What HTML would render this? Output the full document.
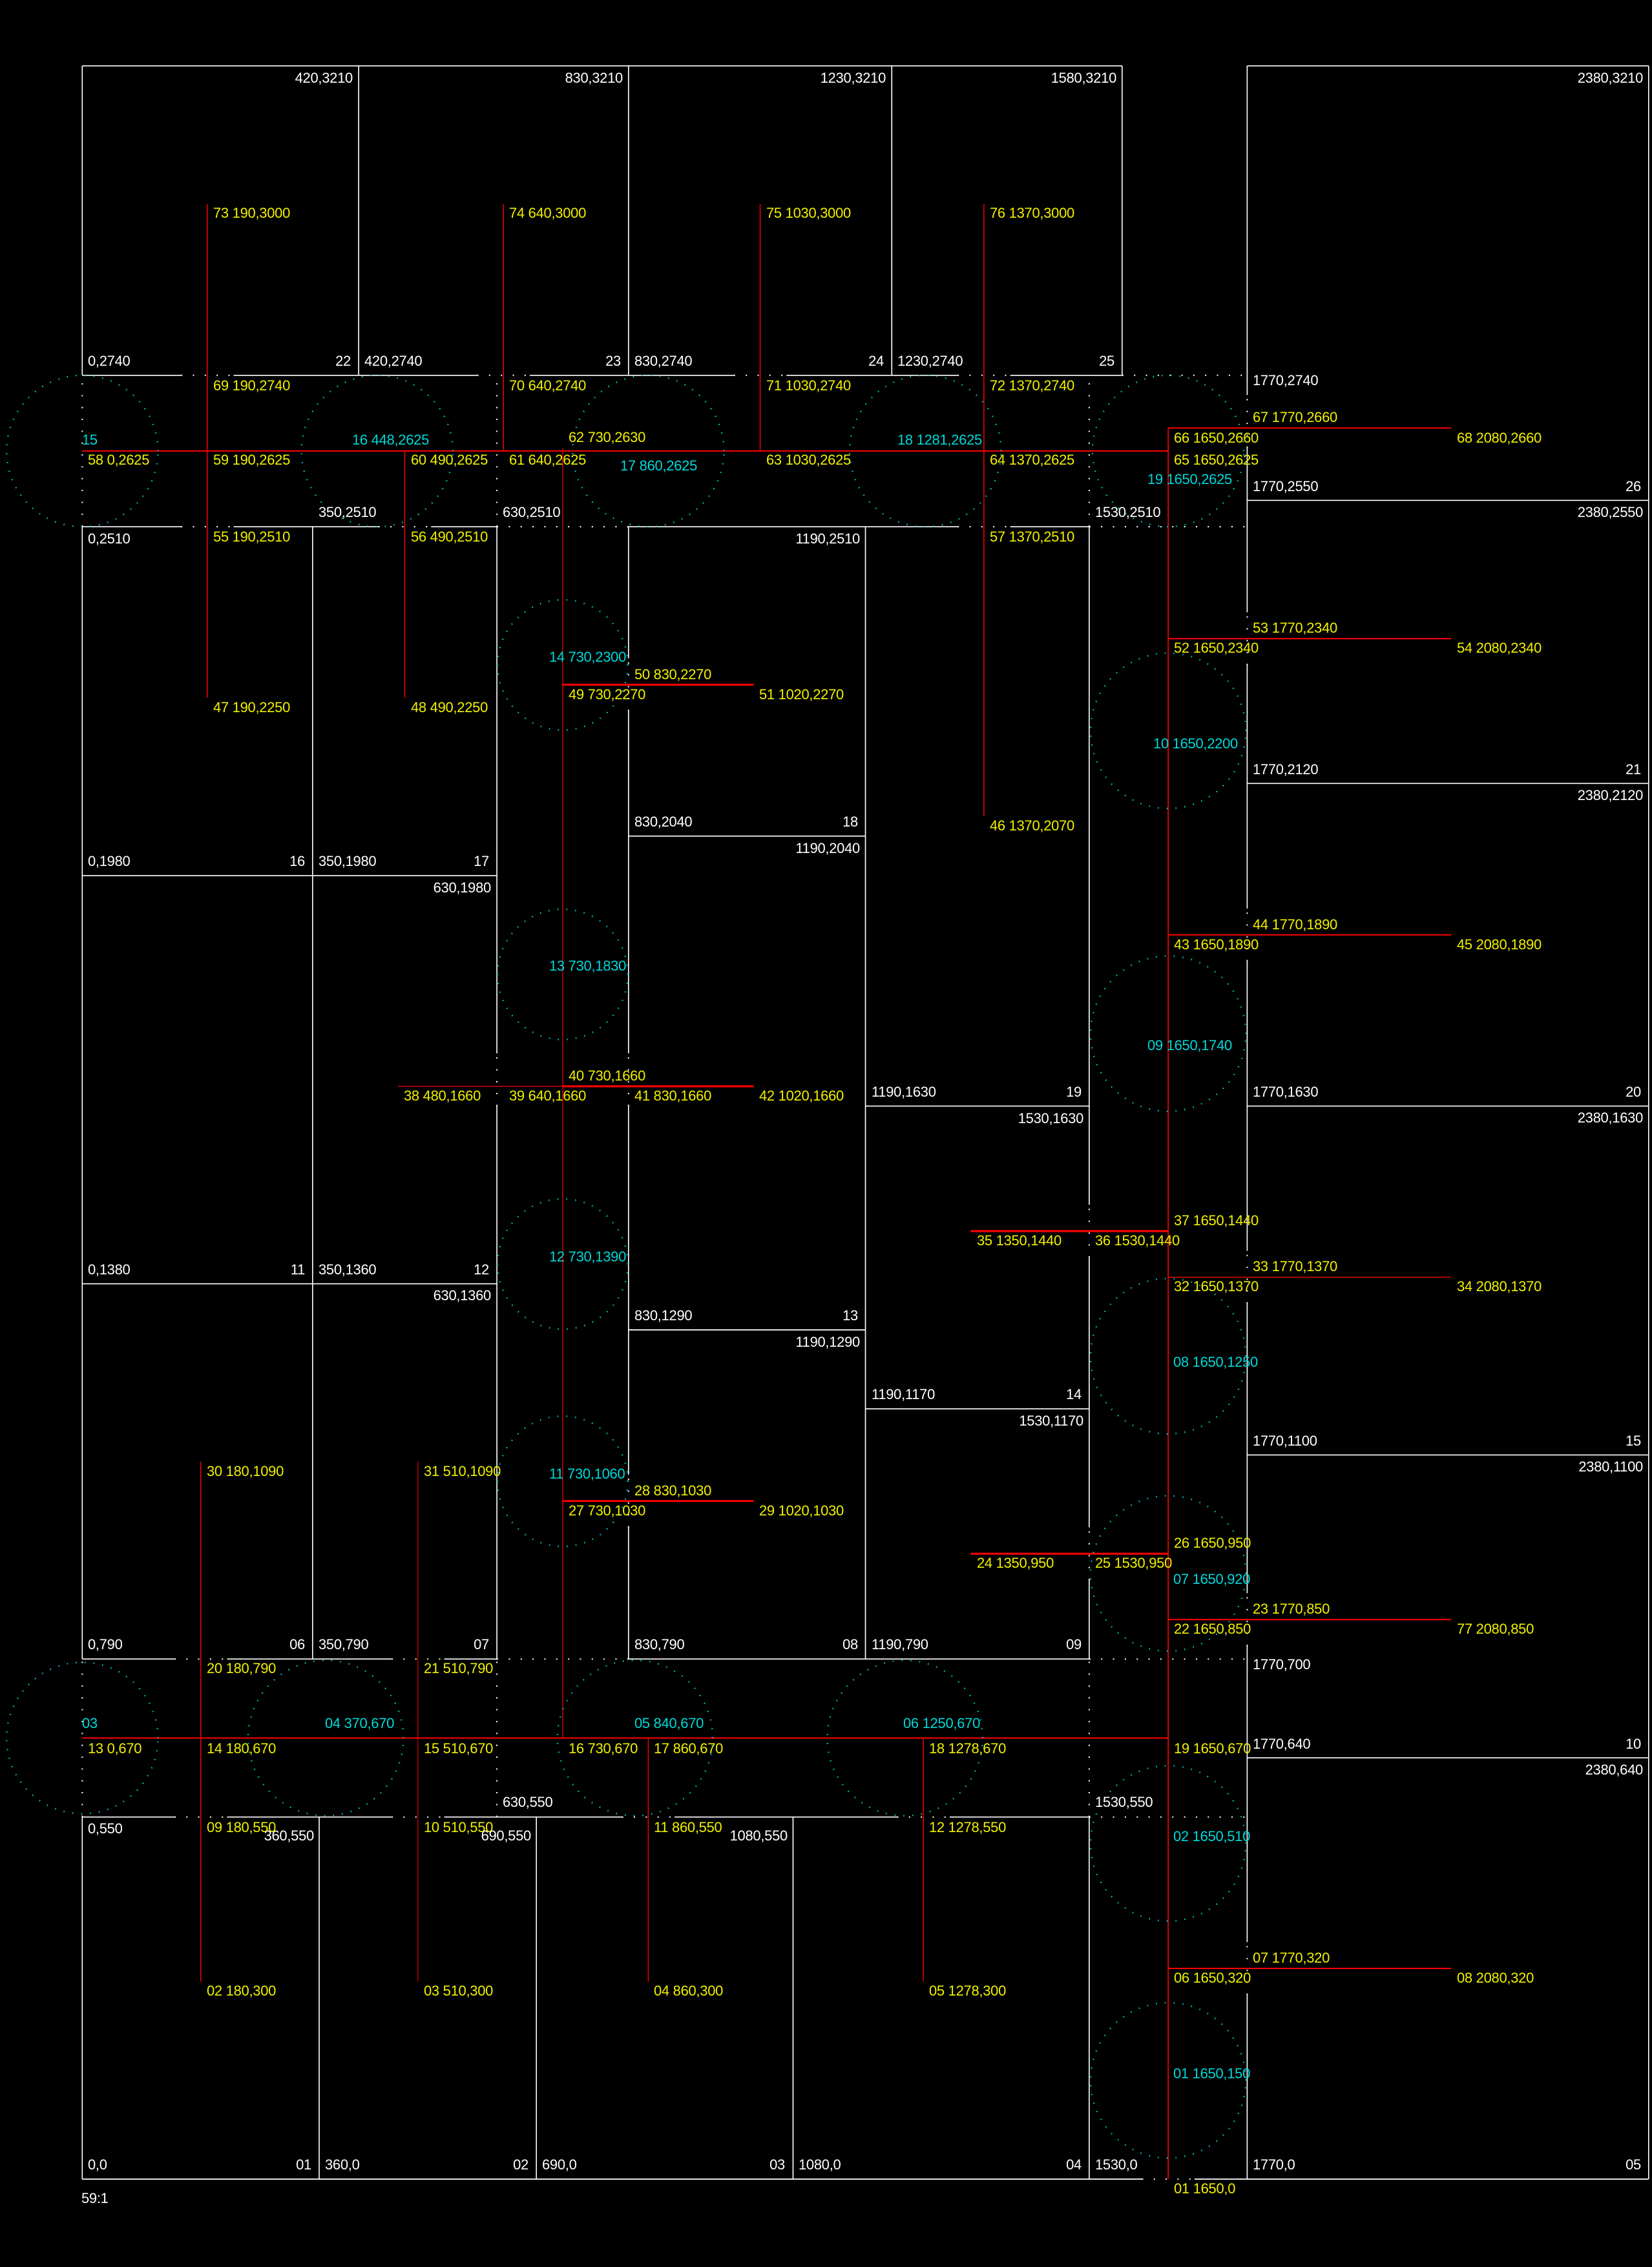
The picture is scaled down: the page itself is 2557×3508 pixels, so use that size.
<!DOCTYPE html>
<html><head><meta charset="utf-8"><style>
html,body{margin:0;padding:0;background:#000;}
svg{display:block;}
text{font-family:"Liberation Sans",sans-serif;font-size:22px;letter-spacing:-0.3px;}
.w{fill:#fff}.y{fill:#f0f000}.c{fill:#00d8d8}
</style></head><body>
<svg width="2557" height="3508" viewBox="0 0 2557 3508" xmlns="http://www.w3.org/2000/svg">
<rect width="2557" height="3508" fill="#000"/>
<g transform="translate(127.3,3372) scale(1.0187,-1.0187)" fill="none">
<!-- solid walls -->
<g stroke="#fff" stroke-width="1.6">
<path d="M0 0H1610M1690 0H2380"/>
<path d="M0 550H140M220 550H470M550 550H820M900 550H1238M1318 550H1530"/>
<path d="M0 790H140M220 790H470M550 790H630M830 790H1530"/>
<path d="M0 1360H630M0 1980H630M830 1290H1190M830 2040H1190M1190 1630H1530M1190 1170H1530"/>
<path d="M0 2510H150M230 2510H450M530 2510H630M830 2510H1330M1410 2510H1530"/>
<path d="M0 2740H150M230 2740H600M680 2740H990M1070 2740H1330M1410 2740H1580"/>
<path d="M0 3210H1580M1770 3210H2380"/>
<path d="M1770 2550H2380M1770 2120H2380M1770 1630H2380M1770 1100H2380M1770 640H2380"/>
<path d="M0 0V550M0 790V2510M0 2740V3210"/>
<path d="M360 0V550M690 0V550M1080 0V550M350 790V2510"/>
<path d="M630 790V1630M630 1710V2510"/>
<path d="M830 790V990M830 1070V1630M830 1710V2230M830 2310V2510M830 2740V3210"/>
<path d="M1190 790V2510M420 2740V3210M1230 2740V3210M1580 2740V3210"/>
<path d="M1530 0V550M1530 790V910M1530 990V1400M1530 1480V2510"/>
<path d="M1770 0V280M1770 360V810M1770 890V1330M1770 1410V1850M1770 1930V2300M1770 2380V2630M1770 2710V3210"/>
<path d="M2380 0V3210"/>
</g>
<!-- dotted walls -->
<g stroke="#fff" stroke-width="2" stroke-dasharray="2 16">
<path d="M1610 0H1690M140 550H220M470 550H550M820 550H900M1238 550H1318M1530 550H1770"/>
<path d="M140 790H220M470 790H550M630 790H830M1530 790H1770"/>
<path d="M150 2510H230M450 2510H530M630 2510H830M1330 2510H1410M1530 2510H1770"/>
<path d="M150 2740H230M600 2740H680M990 2740H1070M1330 2740H1410M1580 2740H1770"/>
<path d="M0 550V790M0 2510V2740M630 550V790M630 2510V2740M630 1630V1710M1530 550V790M1530 2510V2740"/>
<path d="M830 990V1070M830 1630V1710M830 2230V2310M1530 910V990M1530 1400V1480"/>
<path d="M1770 280V360M1770 810V890M1770 1330V1410M1770 1850V1930M1770 2300V2380M1770 2630V2710"/>
</g>
<!-- red lines -->
<g stroke="#ff0000" stroke-width="2">
<path d="M0 2625H1650"/>
<path d="M1650 0V2660" stroke-width="1.6"/>
<path d="M1650 2660H2080M1650 2340H2080M1650 1890H2080M1650 850H2080M1650 320H2080"/>
<path d="M730 2270H1020M730 1030H1020M1350 950H1650M730 1660H1020M1350 1440H1650" stroke-width="3"/>
<path d="M0 670H1650"/>
<path d="M480 1660H730M1650 1370H2080" stroke-width="1.2"/>
<path d="M730 2630V670" stroke-width="1.2"/>
<path d="M190 2250V3000M490 2250V2625M640 2625V3000M1030 2625V3000M1370 2070V3000" stroke-width="1.4"/>
<path d="M180 300V1090M860 300V670M1278 300V670" stroke-width="1.4"/>
<path d="M510 300V1090" stroke-width="1"/>
</g>
<!-- circles -->
<g stroke="#00d0d0" stroke-width="2.4" stroke-dasharray="1.5 12">
<circle cx="0" cy="2625" r="115"/><circle cx="448" cy="2625" r="115"/><circle cx="860" cy="2625" r="115"/><circle cx="1281" cy="2625" r="115"/><circle cx="1650" cy="2625" r="115"/>
<circle cx="730" cy="2300" r="99"/><circle cx="730" cy="1830" r="99"/><circle cx="730" cy="1390" r="99"/><circle cx="730" cy="1060" r="99"/>
<circle cx="1650" cy="2200" r="118"/><circle cx="1650" cy="1740" r="118"/><circle cx="1650" cy="1250" r="118"/><circle cx="1650" cy="920" r="118"/><circle cx="1650" cy="510" r="118"/><circle cx="1650" cy="150" r="118"/>
<circle cx="0" cy="670" r="115"/><circle cx="370" cy="670" r="118"/><circle cx="840" cy="670" r="118"/><circle cx="1250" cy="670" r="118"/>
</g>
</g>

<!-- white labels -->
<g class="w">
<text x="136" y="3357">0,0</text><text x="482" y="3357" text-anchor="end">01</text>
<text x="503" y="3357">360,0</text><text x="818" y="3357" text-anchor="end">02</text>
<text x="839" y="3357">690,0</text><text x="1215" y="3357" text-anchor="end">03</text>
<text x="1236" y="3357">1080,0</text><text x="1674" y="3357" text-anchor="end">04</text>
<text x="1695" y="3357">1530,0</text>
<text x="1939" y="3357">1770,0</text><text x="2540" y="3357" text-anchor="end">05</text>
<text x="136" y="2837">0,550</text>
<text x="486" y="2848" text-anchor="end">360,550</text>
<text x="822" y="2848" text-anchor="end">690,550</text>
<text x="1219" y="2848" text-anchor="end">1080,550</text>
<text x="778" y="2796">630,550</text>
<text x="1695" y="2796">1530,550</text>
<text x="136" y="2552">0,790</text><text x="472" y="2552" text-anchor="end">06</text>
<text x="493" y="2552">350,790</text><text x="757" y="2552" text-anchor="end">07</text>
<text x="982" y="2552">830,790</text><text x="1328" y="2552" text-anchor="end">08</text>
<text x="1349" y="2552">1190,790</text><text x="1674" y="2552" text-anchor="end">09</text>
<text x="136" y="1972">0,1380</text><text x="472" y="1972" text-anchor="end">11</text>
<text x="493" y="1972">350,1360</text><text x="757" y="1972" text-anchor="end">12</text>
<text x="760" y="2012" text-anchor="end">630,1360</text>
<text x="982" y="2043">830,1290</text><text x="1328" y="2043" text-anchor="end">13</text>
<text x="1331" y="2084" text-anchor="end">1190,1290</text>
<text x="1349" y="2165">1190,1170</text><text x="1674" y="2165" text-anchor="end">14</text>
<text x="1677" y="2206" text-anchor="end">1530,1170</text>
<text x="1349" y="1697">1190,1630</text><text x="1674" y="1697" text-anchor="end">19</text>
<text x="1677" y="1738" text-anchor="end">1530,1630</text>
<text x="136" y="1340">0,1980</text><text x="472" y="1340" text-anchor="end">16</text>
<text x="493" y="1340">350,1980</text><text x="757" y="1340" text-anchor="end">17</text>
<text x="760" y="1381" text-anchor="end">630,1980</text>
<text x="982" y="1279">830,2040</text><text x="1328" y="1279" text-anchor="end">18</text>
<text x="1331" y="1320" text-anchor="end">1190,2040</text>
<text x="136" y="841">0,2510</text>
<text x="493" y="800">350,2510</text>
<text x="778" y="800">630,2510</text>
<text x="1331" y="841" text-anchor="end">1190,2510</text>
<text x="1695" y="800">1530,2510</text>
<text x="136" y="566">0,2740</text><text x="543" y="566" text-anchor="end">22</text>
<text x="564" y="566">420,2740</text><text x="961" y="566" text-anchor="end">23</text>
<text x="982" y="566">830,2740</text><text x="1368" y="566" text-anchor="end">24</text>
<text x="1389" y="566">1230,2740</text><text x="1725" y="566" text-anchor="end">25</text>
<text x="1939" y="596">1770,2740</text>
<text x="546" y="128" text-anchor="end">420,3210</text>
<text x="964" y="128" text-anchor="end">830,3210</text>
<text x="1371" y="128" text-anchor="end">1230,3210</text>
<text x="1728" y="128" text-anchor="end">1580,3210</text>
<text x="2543" y="128" text-anchor="end">2380,3210</text>
<text x="1939" y="760">1770,2550</text><text x="2540" y="760" text-anchor="end">26</text>
<text x="2543" y="800" text-anchor="end">2380,2550</text>
<text x="1939" y="1198">1770,2120</text><text x="2540" y="1198" text-anchor="end">21</text>
<text x="2543" y="1238" text-anchor="end">2380,2120</text>
<text x="1939" y="1697">1770,1630</text><text x="2540" y="1697" text-anchor="end">20</text>
<text x="2543" y="1737" text-anchor="end">2380,1630</text>
<text x="1939" y="2237">1770,1100</text><text x="2540" y="2237" text-anchor="end">15</text>
<text x="2543" y="2277" text-anchor="end">2380,1100</text>
<text x="1939" y="2583">1770,700</text>
<text x="1939" y="2706">1770,640</text><text x="2540" y="2706" text-anchor="end">10</text>
<text x="2543" y="2746" text-anchor="end">2380,640</text>
<text x="126" y="3409">59:1</text>
</g>

<!-- yellow point labels -->
<g class="y">
<text x="330" y="337">73 190,3000</text><text x="788" y="337">74 640,3000</text><text x="1186" y="337">75 1030,3000</text><text x="1532" y="337">76 1370,3000</text>
<text x="330" y="604">69 190,2740</text><text x="788" y="604">70 640,2740</text><text x="1186" y="604">71 1030,2740</text><text x="1532" y="604">72 1370,2740</text>
<text x="880" y="684">62 730,2630</text>
<text x="136" y="719">58 0,2625</text><text x="330" y="719">59 190,2625</text><text x="636" y="719">60 490,2625</text><text x="788" y="719">61 640,2625</text><text x="1186" y="719">63 1030,2625</text><text x="1532" y="719">64 1370,2625</text><text x="1817" y="719">65 1650,2625</text>
<text x="1817" y="685">66 1650,2660</text><text x="1939" y="653">67 1770,2660</text><text x="2255" y="685">68 2080,2660</text>
<text x="330" y="838">55 190,2510</text><text x="636" y="838">56 490,2510</text><text x="1532" y="838">57 1370,2510</text>
<text x="982" y="1051">50 830,2270</text><text x="880" y="1082">49 730,2270</text><text x="1175" y="1082">51 1020,2270</text>
<text x="330" y="1102">47 190,2250</text><text x="636" y="1102">48 490,2250</text>
<text x="1939" y="979">53 1770,2340</text><text x="1817" y="1010">52 1650,2340</text><text x="2255" y="1010">54 2080,2340</text>
<text x="1532" y="1285">46 1370,2070</text>
<text x="1939" y="1438">44 1770,1890</text><text x="1817" y="1469">43 1650,1890</text><text x="2255" y="1469">45 2080,1890</text>
<text x="880" y="1672">40 730,1660</text>
<text x="625" y="1703">38 480,1660</text><text x="788" y="1703">39 640,1660</text><text x="982" y="1703">41 830,1660</text><text x="1175" y="1703">42 1020,1660</text>
<text x="1817" y="1896">37 1650,1440</text>
<text x="1512" y="1927">35 1350,1440</text><text x="1695" y="1927">36 1530,1440</text>
<text x="1939" y="1967">33 1770,1370</text><text x="1817" y="1998">32 1650,1370</text><text x="2255" y="1998">34 2080,1370</text>
<text x="320" y="2284">30 180,1090</text><text x="656" y="2284">31 510,1090</text>
<text x="982" y="2314">28 830,1030</text><text x="880" y="2345">27 730,1030</text><text x="1175" y="2345">29 1020,1030</text>
<text x="1817" y="2395">26 1650,950</text><text x="1512" y="2426">24 1350,950</text><text x="1695" y="2426">25 1530,950</text>
<text x="1939" y="2497">23 1770,850</text><text x="1817" y="2528">22 1650,850</text><text x="2255" y="2528">77 2080,850</text>
<text x="320" y="2589">20 180,790</text><text x="656" y="2589">21 510,790</text>
<text x="136" y="2713">13 0,670</text><text x="320" y="2713">14 180,670</text><text x="656" y="2713">15 510,670</text><text x="880" y="2713">16 730,670</text><text x="1012" y="2713">17 860,670</text><text x="1438" y="2713">18 1278,670</text><text x="1817" y="2713">19 1650,670</text>
<text x="320" y="2835">09 180,550</text><text x="656" y="2835">10 510,550</text><text x="1012" y="2835">11 860,550</text><text x="1438" y="2835">12 1278,550</text>
<text x="1939" y="3037">07 1770,320</text><text x="1817" y="3068">06 1650,320</text><text x="2255" y="3068">08 2080,320</text>
<text x="320" y="3088">02 180,300</text><text x="656" y="3088">03 510,300</text><text x="1012" y="3088">04 860,300</text><text x="1438" y="3088">05 1278,300</text>
<text x="1817" y="3394">01 1650,0</text>
</g>

<!-- cyan labels -->
<g class="c">
<text x="127" y="688">15</text>
<text x="545" y="688">16 448,2625</text>
<text x="960" y="728">17 860,2625</text>
<text x="1389" y="688">18 1281,2625</text>
<text x="1776" y="749">19 1650,2625</text>
<text x="850" y="1024">14 730,2300</text>
<text x="1785" y="1158">10 1650,2200</text>
<text x="850" y="1502">13 730,1830</text>
<text x="1776" y="1625">09 1650,1740</text>
<text x="850" y="1952">12 730,1390</text>
<text x="1816" y="2115">08 1650,1250</text>
<text x="850" y="2288">11 730,1060</text>
<text x="1816" y="2451">07 1650,920</text>
<text x="127" y="2674">03</text>
<text x="503" y="2674">04 370,670</text>
<text x="982" y="2674">05 840,670</text>
<text x="1398" y="2674">06 1250,670</text>
<text x="1816" y="2849">02 1650,510</text>
<text x="1816" y="3216">01 1650,150</text>
</g>
</svg>
</body></html>
